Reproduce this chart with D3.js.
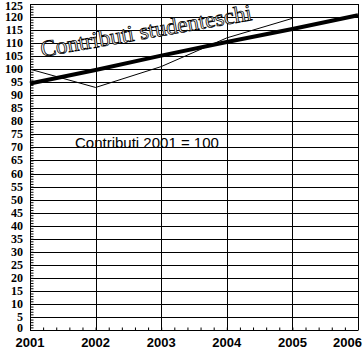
<!DOCTYPE html>
<html>
<head>
<meta charset="utf-8">
<script src="https://cdnjs.cloudflare.com/ajax/libs/d3/7.8.5/d3.min.js"></script>
<style>
    body { margin: 0; background: #fff; }
    #center { width: 364px; height: 351px; }
</style>
</head>
<body>
<div id="center"></div>
<script>
let years = [2001, 2002, 2003, 2004, 2005, 2006];
let yTicks = d3.range(0, 126, 5);
// thin line: yearly index, thick line: trend
let indexYears = [2001, 2002, 2003, 2004, 2005];
let indexValues = [100, 93, 101, 112, 119.5];
let trendValues = [94.5, 99.7, 105.2, 110.4, 115.4, 120.7];

let width = 364;
let height = 351;
const svg = d3.select("#center").append("svg")
    .attr("width", width)
    .attr("height", height)
    .style("font-family", "Liberation Sans");

let xlinear = d3.scaleLinear().domain([2001, 2006]).range([30, 358]);
let ylinear = d3.scaleLinear().domain([0, 125]).range([330, 4]);

// horizontal grid
svg.append("g")
    .selectAll("line")
    .data(yTicks)
    .enter()
    .append("line")
    .attr("x1", xlinear(2001))
    .attr("x2", xlinear(2006))
    .attr("y1", function (d) { return Math.round(ylinear(d)) + 0.5; })
    .attr("y2", function (d) { return Math.round(ylinear(d)) + 0.5; })
    .attr("stroke", "black");

// vertical grid
svg.append("g")
    .selectAll("line")
    .data(years)
    .enter()
    .append("line")
    .attr("x1", function (d) { return Math.round(xlinear(d)) + 0.5; })
    .attr("x2", function (d) { return Math.round(xlinear(d)) + 0.5; })
    .attr("y1", ylinear(0))
    .attr("y2", ylinear(125))
    .attr("stroke", "black");

// minor ticks on y axis (every unit)
let axisY = d3.axisRight(ylinear).ticks(125).tickSize(3).tickFormat("");
svg.append("g")
    .attr("transform", "translate(" + (Math.round(xlinear(2001)) + 0.5) + ",0)")
    .call(axisY)
    .call(function (g) { g.select(".domain").remove(); });

// minor ticks on x axis (5 per year)
let axisX = d3.axisTop(xlinear).ticks(25).tickSize(3).tickFormat("");
svg.append("g")
    .attr("transform", "translate(0," + (Math.round(ylinear(0)) + 0.5) + ")")
    .call(axisX)
    .call(function (g) { g.select(".domain").remove(); });

// y labels (ends squeezed a little to stay inside)
svg.append("g")
    .selectAll("text")
    .data(yTicks)
    .enter()
    .append("text")
    .attr("x", 23)
    .attr("y", function (d) { return Math.min(Math.max(ylinear(d) + 4, 10), 332); })
    .attr("text-anchor", "end")
    .style("font-family", "Liberation Serif")
    .style("font-weight", "bold")
    .style("font-size", "12px")
    .text(function (d) { return d; });

// x labels
svg.append("g")
    .selectAll("text")
    .data(years)
    .enter()
    .append("text")
    .attr("x", function (d, i) { return i == years.length - 1 ? 362 : xlinear(d); })
    .attr("y", 347)
    .attr("text-anchor", function (d, i) { return i == years.length - 1 ? "end" : "middle"; })
    .style("font-weight", "bold")
    .style("font-size", "13px")
    .text(function (d) { return d; });

// title rotated
svg.append("text")
    .attr("transform", "translate(42,57) rotate(-10)")
    .attr("fill", "white")
    .attr("stroke", "black")
    .attr("stroke-width", 0.8)
    .style("font-family", "Liberation Serif")
    .style("font-size", "23px")
    .text("Contributi studenteschi");

let line = d3.line()
    .x(function (d) { return xlinear(d[0]); })
    .y(function (d) { return ylinear(d[1]); });

svg.append("path")
    .datum(d3.zip(indexYears, indexValues))
    .attr("d", line)
    .attr("fill", "none")
    .attr("stroke", "black")
    .attr("stroke-width", 1);

svg.append("path")
    .datum(d3.zip(years, trendValues))
    .attr("d", line)
    .attr("fill", "none")
    .attr("stroke", "black")
    .attr("stroke-width", 4);

svg.append("text")
    .attr("x", 75)
    .attr("y", 148)
    .style("font-size", "15px")
    .text("Contributi 2001 = 100");
</script>
</body>
</html>
